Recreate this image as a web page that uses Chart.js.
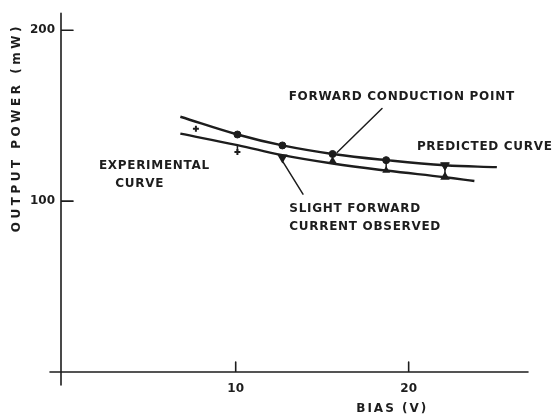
<!DOCTYPE html>
<html>
<head>
<meta charset="utf-8">
<script src="https://cdn.jsdelivr.net/npm/chart.js@4.4.1/dist/chart.umd.min.js"></script>
<style>
  html, body { margin: 0; padding: 0; background: #fff; }
</style>
</head>
<body>
<canvas id="chart" width="558" height="416"></canvas>
<script>
// Output power against bias: predicted vs experimental curve
const xTicks = [10, 20];
const yTicks = [100, 200];

const predictedBias = [6.8, 10.1, 12.7, 15.6, 18.7, 22.1, 25.1];
const predictedPower = [149.4, 139.0, 132.6, 127.6, 124.0, 121.0, 119.9];

const experimentalBias = [6.8, 10.1, 12.7, 15.6, 18.7, 22.1, 23.8];
const experimentalPower = [139.5, 132.8, 126.9, 122.0, 117.9, 114.0, 111.8];

// computed points on the predicted curve
const predictedPointBias = [10.1, 12.7, 15.6, 18.7, 22.1];
const predictedPointPower = [139.0, 132.6, 127.6, 124.0, 121.0];

// measured points
const measuredBias = [7.7, 10.1, 12.7, 15.6, 18.7, 22.1];
const measuredPower = [142.4, 128.7, 125.6, 123.3, 118.0, 114.2];

// vertical bars between readings
const barBias = [10.1, 18.7, 22.1];
const barLow = [128.7, 117.9, 114.0];
const barHigh = [132.8, 124.0, 121.0];

const INK = '#1d1d1d';
const FONT = '"DejaVu Sans", sans-serif';

const toXY = (xs, ys) => xs.map((x, i) => ({ x: x, y: ys[i] }));

const barData = [];
barBias.forEach((x, i) => {
  barData.push({ x: x, y: barLow[i] }, { x: x, y: barHigh[i] }, { x: x, y: null });
});

// text notes and leader lines, in axis units
const notes = [
  { text: 'FORWARD CONDUCTION POINT', x: 19.6, y: 161, align: 'center' },
  { text: 'PREDICTED CURVE', x: 24.4, y: 132, align: 'center' },
  { text: 'EXPERIMENTAL', x: 5.3, y: 120.5, align: 'center' },
  { text: 'CURVE', x: 4.45, y: 110, align: 'center' },
  { text: 'SLIGHT FORWARD', x: 13.1, y: 95.3, align: 'left' },
  { text: 'CURRENT OBSERVED', x: 13.1, y: 84.9, align: 'left' }
];
const leaders = [
  [15.86, 128.5, 18.46, 154.2],
  [12.67, 124.0, 13.89, 104.1]
];

const axesAndNotes = {
  id: 'axesAndNotes',
  afterDraw(chart) {
    const ctx = chart.ctx;
    const xs = chart.scales.x, ys = chart.scales.y;
    const a = chart.chartArea;
    ctx.save();
    ctx.strokeStyle = INK;
    ctx.lineCap = 'round';

    // axes, running a little past the origin
    ctx.lineWidth = 1.6;
    ctx.beginPath();
    ctx.moveTo(a.left, a.top);
    ctx.lineTo(a.left, a.bottom + 13);
    ctx.moveTo(a.left - 11, a.bottom);
    ctx.lineTo(a.right, a.bottom);
    // inward tick marks
    yTicks.forEach(v => {
      const py = ys.getPixelForValue(v);
      ctx.moveTo(a.left, py);
      ctx.lineTo(a.left + 12, py);
    });
    xTicks.forEach(v => {
      const px = xs.getPixelForValue(v);
      ctx.moveTo(px, a.bottom);
      ctx.lineTo(px, a.bottom - 10);
    });
    ctx.stroke();

    // leader lines
    ctx.lineWidth = 1.5;
    ctx.beginPath();
    leaders.forEach(l => {
      ctx.moveTo(xs.getPixelForValue(l[0]), ys.getPixelForValue(l[1]));
      ctx.lineTo(xs.getPixelForValue(l[2]), ys.getPixelForValue(l[3]));
    });
    ctx.stroke();

    ctx.fillStyle = INK;
    ctx.font = 'bold 12px ' + FONT;
    ctx.letterSpacing = '0.7px';
    ctx.textBaseline = 'middle';
    notes.forEach(n => {
      ctx.textAlign = n.align;
      ctx.fillText(n.text, xs.getPixelForValue(n.x), ys.getPixelForValue(n.y));
    });

    // axis titles
    ctx.textAlign = 'center';
    ctx.letterSpacing = '2px';
    ctx.fillText('BIAS (V)', xs.getPixelForValue(19.05), a.bottom + 37);

    ctx.translate(a.left - 44, ys.getPixelForValue(143));
    ctx.rotate(-Math.PI / 2);
    ctx.letterSpacing = '3.5px';
    ctx.fillText('OUTPUT POWER (mW)', 0, 0);
    ctx.restore();
  }
};

new Chart(document.getElementById('chart'), {
  type: 'scatter',
  data: {
    datasets: [
      {
        label: 'Predicted curve',
        data: toXY(predictedBias, predictedPower),
        showLine: true,
        borderColor: INK,
        borderWidth: 2.4,
        pointRadius: 0,
        tension: 0.4
      },
      {
        label: 'Experimental curve',
        data: toXY(experimentalBias, experimentalPower),
        showLine: true,
        borderColor: INK,
        borderWidth: 2.4,
        pointRadius: 0,
        tension: 0.4
      },
      {
        label: 'Bars',
        data: barData,
        showLine: true,
        spanGaps: false,
        borderColor: INK,
        borderWidth: 1.5,
        pointRadius: 0
      },
      {
        label: 'Predicted points',
        data: toXY(predictedPointBias, predictedPointPower),
        pointStyle: ['circle', 'circle', 'circle', 'circle', 'triangle'],
        rotation: [0, 0, 0, 0, 180],
        pointRadius: [3.5, 3.5, 3.5, 3.5, 5],
        backgroundColor: INK,
        borderColor: INK,
        borderWidth: 1
      },
      {
        label: 'Measured points',
        data: toXY(measuredBias, measuredPower),
        pointStyle: ['cross', 'cross', 'triangle', 'triangle', 'triangle', 'triangle'],
        rotation: [0, 0, 180, 0, 0, 0],
        pointRadius: [3, 3, 4, 3, 2.5, 3.5],
        backgroundColor: INK,
        borderColor: INK,
        borderWidth: 2
      }
    ]
  },
  options: {
    responsive: false,
    animation: false,
    events: [],
    layout: { padding: { top: 11, right: 30, left: 0, bottom: 0 } },
    plugins: { legend: { display: false }, tooltip: { enabled: false } },
    scales: {
      x: {
        type: 'linear',
        min: -0.1,
        max: 26.9,
        grid: { display: false, drawTicks: false },
        border: { display: false },
        afterBuildTicks: s => { s.ticks = xTicks.map(v => ({ value: v })); },
        afterFit: s => { s.height = 44; },
        ticks: { color: INK, padding: 10, font: { family: FONT, size: 12, weight: 'bold' } }
      },
      y: {
        type: 'linear',
        min: 0,
        max: 210,
        grid: { display: false, drawTicks: false },
        border: { display: false },
        afterBuildTicks: s => { s.ticks = yTicks.map(v => ({ value: v })); },
        afterFit: s => { s.width = 61; },
        ticks: { color: INK, padding: 6, font: { family: FONT, size: 12, weight: 'bold' } }
      }
    }
  },
  plugins: [axesAndNotes]
});
</script>
</body>
</html>
